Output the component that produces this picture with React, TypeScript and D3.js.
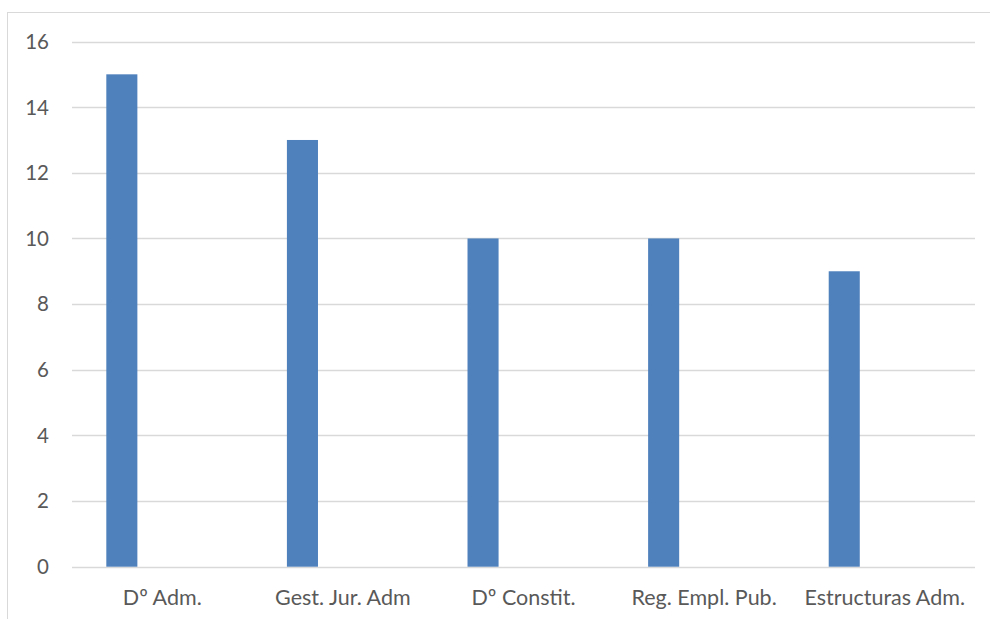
import React from "react";
import * as d3 from "d3";

const categories = ["Dº Adm.", "Gest. Jur. Adm", "Dº Constit.", "Reg. Empl. Pub.", "Estructuras Adm."];
const values = [15, 13, 10, 10, 9];
const yTicks = [0, 2, 4, 6, 8, 10, 12, 14, 16];

const W = 990;
const H = 619;
const margin = { left: 72, right: 15, top: 41.5, bottom: 52.3 };
const FONT = "Lato, 'Open Sans', sans-serif";

export default function App() {
  const x = d3
    .scaleBand<string>()
    .domain(categories)
    .range([margin.left, W - margin.right])
    .padding(0);
  const y = d3
    .scaleLinear()
    .domain([0, 16])
    .range([H - margin.bottom, margin.top]);
  const bw = x.bandwidth();
  const barW = bw * 0.172;
  const barOff = bw * 0.19;

  return (
    <svg
      width={W}
      height={H}
      style={{ position: "absolute", left: 0, top: 0, background: "#fff" }}
    >
      <rect x={7.5} y={12.5} width={W} height={H} fill="#fff" stroke="#D9D9D9" strokeWidth={1} />
      {yTicks.map((t) => (
        <g key={t}>
          <line
            x1={margin.left}
            x2={W - margin.right}
            y1={Math.round(y(t)) + 0.5}
            y2={Math.round(y(t)) + 0.5}
            stroke="#D9D9D9"
            strokeWidth={1.3}
          />
          <text
            x={49}
            y={y(t)}
            dy="0.36em"
            textAnchor="end"
            fontFamily={FONT}
            fontSize={20.5}
            fill="#595959"
          >
            {t}
          </text>
        </g>
      ))}
      {categories.map((c, i) => (
        <rect
          key={c}
          x={(x(c) as number) + barOff}
          y={y(values[i])}
          width={barW}
          height={y(0) - y(values[i])}
          fill="#4F81BD"
        />
      ))}
      {categories.map((c) => (
        <text
          key={c}
          x={(x(c) as number) + bw / 2}
          y={605}
          textAnchor="middle"
          fontFamily={FONT}
          fontSize={21.5}
          fill="#595959"
        >
          {c}
        </text>
      ))}
    </svg>
  );
}
